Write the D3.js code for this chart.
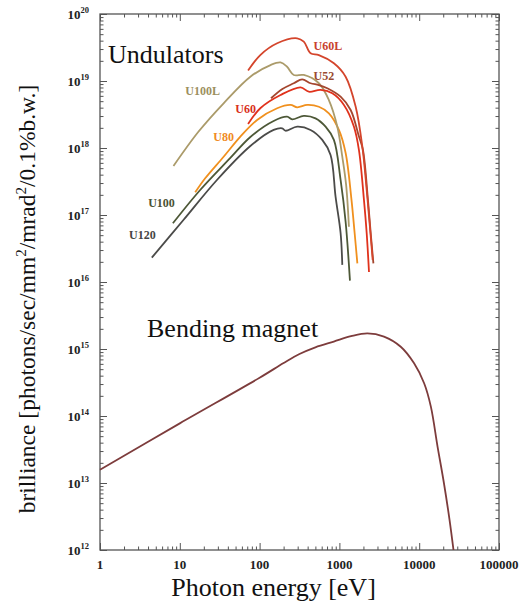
<!DOCTYPE html>
<html><head><meta charset="utf-8">
<script src="https://cdn.jsdelivr.net/npm/d3@7"></script>
<style>html,body{margin:0;padding:0;background:#fff;}svg{display:block;}</style>
</head><body>
<svg id="c" width="526" height="602"></svg>
<script>
// ---------- data ----------
const xTickValues = [1, 10, 100, 1000, 10000, 100000];
const xTickLabels = ["1", "10", "100", "1000", "10000", "100000"];
const yTickExponents = [12, 13, 14, 15, 16, 17, 18, 19, 20];

const bmE = [1, 10, 100, 200, 316, 500, 851, 1400, 2240, 3620, 5870, 8630, 11530, 14000, 17000, 20400, 24000, 26900];
const bmB = [1.58e13, 7.76e13, 3.72e14, 6.17e14, 8.41e14, 1.06e15, 1.29e15, 1.55e15, 1.71e15, 1.53e15, 1.08e15, 6.11e14, 3.08e14, 1.38e14, 3.47e13, 1.0e13, 2.82e12, 1.0e12];

const u120E = [4.46, 11.1, 29.2, 76.6, 150, 192, 211, 296, 435, 610, 775, 896, 1035, 1087];
const u120B = [2.31e16, 8.41e16, 3.33e17, 1.07e18, 1.86e18, 1.97e18, 1.81e18, 2.08e18, 1.86e18, 1.32e18, 7.87e17, 1.86e17, 5.38e16, 1.80e16];

const u100E = [8.19, 18.0, 43.0, 76.6, 150, 221, 256, 358, 502, 671, 853, 1035, 1197, 1356];
const u100B = [7.52e16, 2.36e17, 7.10e17, 1.46e18, 2.53e18, 2.93e18, 2.68e18, 3.01e18, 2.77e18, 2.08e18, 1.32e18, 3.33e17, 7.87e16, 1.05e16];

const u80E = [15.6, 20.8, 35.4, 57.4, 93.1, 166, 244, 296, 395, 553, 738, 986, 1197, 1410, 1552, 1679];
const u80B = [2.18e17, 3.53e17, 7.41e17, 1.48e18, 2.62e18, 3.92e18, 4.39e18, 4.05e18, 4.39e18, 4.13e18, 3.30e18, 1.86e18, 8.41e17, 1.79e17, 5.38e16, 1.90e16];

const u60E = [71.7, 102, 183, 326, 414, 580, 814, 1140, 1522, 1758, 2032, 2197, 2349];
const u60B = [2.28e18, 3.92e18, 6.18e18, 8.05e18, 6.92e18, 7.35e18, 6.55e18, 4.39e18, 2.08e18, 9.33e17, 1.67e17, 5.38e16, 1.41e16];

const u52E = [139, 193, 268, 342, 435, 553, 705, 1035, 1384, 1758, 1973, 2280, 2467, 2667];
const u52B = [5.52e18, 7.60e18, 9.25e18, 1.06e19, 9.25e18, 8.71e18, 7.78e18, 5.83e18, 3.69e18, 1.48e18, 9.33e17, 1.67e17, 5.38e16, 1.90e16];

const u60LE = [71.7, 102, 166, 296, 358, 435, 553, 853, 1197, 1600, 1940, 2197, 2430, 2613];
const u60LB = [1.43e19, 2.44e19, 3.66e19, 4.34e19, 3.86e19, 2.59e19, 2.44e19, 1.84e19, 1.16e19, 4.13e18, 1.04e18, 2.36e17, 5.97e16, 2.13e16];

const u100LE = [8.33, 17.2, 35.4, 76.6, 137, 183, 221, 268, 358, 553, 738, 942, 1087, 1214, 1316];
const u100LB = [5.38e17, 1.76e18, 4.65e18, 1.16e19, 1.73e19, 1.89e19, 1.63e19, 1.23e19, 1.23e19, 9.25e18, 5.20e18, 2.08e18, 7.41e17, 2.81e17, 6.68e16];

// series names, label anchor (data units), colours
const seriesNames = ["U120", "U100", "U80", "U100L", "U60", "U52", "U60L"];
const seriesE = [u120E, u100E, u80E, u100LE, u60E, u52E, u60LE];
const seriesB = [u120B, u100B, u80B, u100LB, u60B, u52B, u60LB];
const labelE = [2.31, 4.01, 26.3, 11.7, 49.7, 474, 474];
const labelB = [4.39e16, 1.31e17, 1.27e18, 6.18e18, 3.33e18, 1.035e19, 2.9e19];
const lineColors = ["#4b4b49", "#4d5837", "#f0901e", "#ab9b6a", "#e0321c", "#a5462e", "#d4452c"];
const labelColors = ["#454545", "#4a5234", "#f08a24", "#9c8f60", "#d93020", "#9a4a30", "#c8412e"];
const bmColor = "#7d3c3c";

// ---------- drawing ----------
const svg = d3.select("#c");
const X0 = 100, X1 = 499, Y0 = 14, Y1 = 550;
const x = d3.scaleLog().domain([1, 1e5]).range([X0, X1]);
const y = d3.scaleLog().domain([1e12, 1e20]).range([Y1, Y0]);
const serif = "'Liberation Serif','Times New Roman',serif";

svg.append("rect").attr("width", 526).attr("height", 602).attr("fill", "#fff");

// minor tick positions from the scale domains
function minors(lo, hi) {
  const out = [];
  for (let p = lo; p < hi; p++) for (let k = 2; k <= 9; k++) out.push(k * Math.pow(10, p));
  return out;
}
const xMinor = minors(0, 5);
const yMinor = minors(12, 20);
const yMajor = yTickExponents.map(e => Math.pow(10, e));

function axisG(gen, scale, vals, size, tx, ty) {
  const g = svg.append("g").attr("transform", `translate(${tx},${ty})`)
    .call(gen(scale).tickValues(vals).tickSizeInner(size).tickSizeOuter(0).tickFormat(""));
  g.select(".domain").remove();
  g.selectAll("line").attr("stroke", "#555").attr("stroke-width", 1);
}
axisG(d3.axisBottom, x, xTickValues, -7, 0, Y1);
axisG(d3.axisBottom, x, xMinor, -3.5, 0, Y1);
axisG(d3.axisTop, x, xTickValues, -7, 0, Y0);
axisG(d3.axisTop, x, xMinor, -3.5, 0, Y0);
axisG(d3.axisLeft, y, yMajor, -7, X0, 0);
axisG(d3.axisLeft, y, yMinor, -3.5, X0, 0);
axisG(d3.axisRight, y, yMajor, -7, X1, 0);
axisG(d3.axisRight, y, yMinor, -3.5, X1, 0);

svg.append("rect").attr("x", X0).attr("y", Y0).attr("width", X1 - X0).attr("height", Y1 - Y0)
  .attr("fill", "none").attr("stroke", "#555").attr("stroke-width", 1.3);

// tick labels
svg.append("g").selectAll("text").data(xTickValues).join("text")
  .attr("x", d => x(d)).attr("y", 569).attr("text-anchor", "middle")
  .attr("font-family", serif).attr("font-weight", "bold").attr("font-size", 13).attr("fill", "#222")
  .text((d, i) => xTickLabels[i]);

const yl = svg.append("g").selectAll("text").data(yTickExponents).join("text")
  .attr("x", 89).attr("y", d => y(Math.pow(10, d)) + 5).attr("text-anchor", "end")
  .attr("font-family", serif).attr("font-weight", "bold").attr("fill", "#222");
yl.append("tspan").attr("font-size", 13).text("10");
yl.append("tspan").attr("font-size", 8.5).attr("dy", -6).text(d => d);

// curves
const line = d3.line().x(d => x(d[0])).y(d => y(d[1])).curve(d3.curveCatmullRom.alpha(0.5));
svg.append("path").datum(bmE.map((e, i) => [e, bmB[i]]))
  .attr("d", line).attr("fill", "none").attr("stroke", bmColor).attr("stroke-width", 1.8);

seriesNames.forEach((n, s) => {
  svg.append("path").datum(seriesE[s].map((e, i) => [e, seriesB[s][i]]))
    .attr("d", line).attr("fill", "none").attr("stroke", lineColors[s])
    .attr("stroke-width", 1.8).attr("stroke-linejoin", "round");
  svg.append("text").attr("x", x(labelE[s])).attr("y", y(labelB[s]))
    .attr("font-family", serif).attr("font-weight", "bold").attr("font-size", 12)
    .attr("fill", labelColors[s]).text(n);
});

// big text
svg.append("text").attr("x", 108).attr("y", 63).attr("font-family", serif).attr("font-size", 26)
  .attr("fill", "#111").text("Undulators");
svg.append("text").attr("x", 147).attr("y", 337).attr("font-family", serif).attr("font-size", 26)
  .attr("fill", "#111").text("Bending magnet");
svg.append("text").attr("x", 273.5).attr("y", 596).attr("text-anchor", "middle").attr("font-family", serif)
  .attr("font-size", 26).attr("fill", "#111").text("Photon energy [eV]");

const yt = svg.append("text").attr("transform", "translate(35,299) rotate(-90)").attr("text-anchor", "middle")
  .attr("font-family", serif).attr("font-size", 23.5).attr("fill", "#111");
yt.append("tspan").text("brilliance [photons/sec/mm");
yt.append("tspan").attr("font-size", 15).attr("dy", -9).text("2");
yt.append("tspan").attr("dy", 9).text("/mrad");
yt.append("tspan").attr("font-size", 15).attr("dy", -9).text("2");
yt.append("tspan").attr("dy", 9).text("/0.1%b.w.]");
</script>
</body></html>
